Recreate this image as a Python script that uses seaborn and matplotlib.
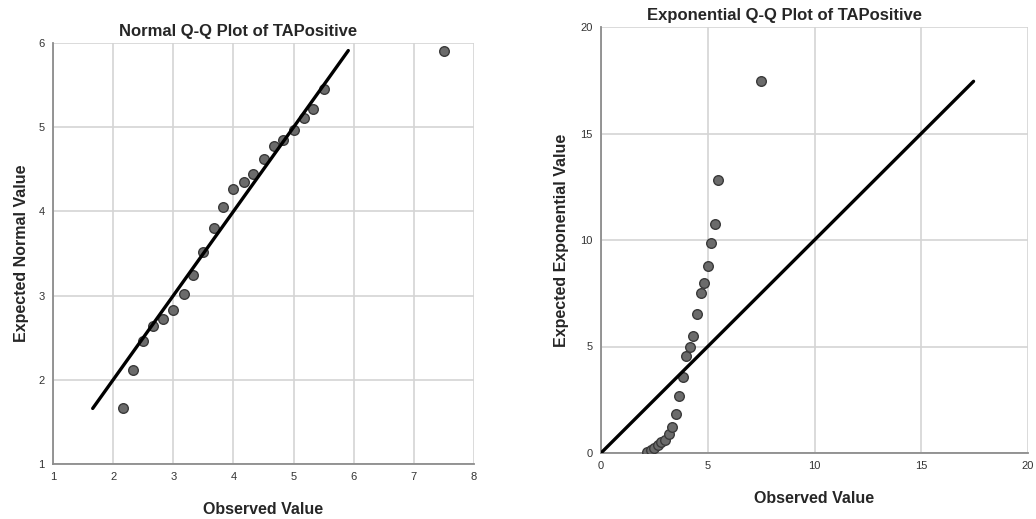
import matplotlib
matplotlib.use("Agg")
import matplotlib.pyplot as plt
import seaborn as sns
import pandas as pd

# Data
observed = [2.17, 2.33, 2.50, 2.67, 2.83, 3.00, 3.17, 3.33, 3.50, 3.67, 3.83,
            4.00, 4.17, 4.33, 4.50, 4.67, 4.83, 5.00, 5.17, 5.33, 5.50, 7.50]
expected_normal = [1.66, 2.12, 2.46, 2.64, 2.72, 2.83, 3.02, 3.24, 3.52, 3.80, 4.05,
                   4.27, 4.35, 4.44, 4.62, 4.78, 4.85, 4.97, 5.11, 5.22, 5.45, 5.91]
expected_exp = [0.05, 0.13, 0.25, 0.38, 0.50, 0.62, 0.87, 1.20, 1.83, 2.68, 3.57,
                4.54, 4.98, 5.47, 6.51, 7.49, 7.96, 8.77, 9.85, 10.77, 12.81, 17.45]

normal_ticks = [1, 2, 3, 4, 5, 6, 7, 8]
normal_yticks = [1, 2, 3, 4, 5, 6]
exp_ticks = [0, 5, 10, 15, 20]

df = pd.DataFrame({"obs": observed, "norm": expected_normal, "exp": expected_exp})
norm_line = pd.DataFrame({"x": [min(expected_normal), max(expected_normal)]})
norm_line["y"] = norm_line["x"]
exp_line = pd.DataFrame({"x": [0, max(expected_exp)]})
exp_line["y"] = exp_line["x"]

sns.set_theme(style="white")
plt.rcParams["font.family"] = ["Liberation Sans", "DejaVu Sans"]

fig = plt.figure(figsize=(10.36, 5.19), dpi=100)
ax1 = fig.add_axes([53/1036, 1-464/519, 421/1036, 421/519])
ax2 = fig.add_axes([601/1036, 1-453/519, 427/1036, 426/519])

grid_c = "#d4d4d4"
spine_c = "#8c8c8c"
pt_face = "#6b6b6b"
pt_edge = "#3a3a3a"

def style(ax, xt, yt, xlim, ylim):
    ax.set_xlim(*xlim)
    ax.set_ylim(*ylim)
    ax.set_xticks(xt)
    ax.set_yticks(yt)
    ax.grid(True, color=grid_c, linewidth=1.2)
    ax.set_axisbelow(True)
    for s in ["top", "right"]:
        ax.spines[s].set_visible(False)
    for s in ["left", "bottom"]:
        ax.spines[s].set_color(spine_c)
        ax.spines[s].set_linewidth(1.3)
    ax.tick_params(length=0, labelsize=8, colors="#333333", pad=6)

sns.scatterplot(data=df, x="obs", y="norm", ax=ax1, s=48, color=pt_face,
                edgecolor=pt_edge, linewidth=1.0, zorder=3)
sns.lineplot(data=norm_line, x="x", y="y", ax=ax1, color="black", linewidth=2.4, zorder=4)
style(ax1, normal_ticks, normal_yticks, (1, 8), (1, 6))
ax1.set_title("Normal Q-Q Plot of TAPositive", fontsize=12, fontweight="bold",
              x=0.44, pad=5)
ax1.set_xlabel("Observed Value", fontsize=11.5, fontweight="bold", labelpad=14)
ax1.set_ylabel("Expected Normal Value", fontsize=11.5, fontweight="bold", labelpad=7)

sns.scatterplot(data=df, x="obs", y="exp", ax=ax2, s=48, color=pt_face,
                edgecolor=pt_edge, linewidth=1.0, zorder=3)
sns.lineplot(data=exp_line, x="x", y="y", ax=ax2, color="black", linewidth=2.4, zorder=4)
style(ax2, exp_ticks, exp_ticks, (0, 20), (0, 20))
ax2.set_title("Exponential Q-Q Plot of TAPositive", fontsize=12, fontweight="bold",
              x=0.43, pad=5)
ax2.set_xlabel("Observed Value", fontsize=11.5, fontweight="bold", labelpad=14)
ax2.set_ylabel("Expected Exponential Value", fontsize=11.5, fontweight="bold", labelpad=8)

fig.savefig("out.png", dpi=100)
